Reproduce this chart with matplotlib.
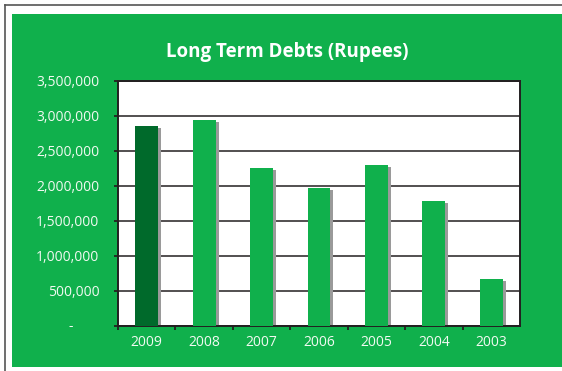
import matplotlib.pyplot as plt
from matplotlib.patches import Rectangle
from matplotlib.lines import Line2D
from matplotlib.transforms import ScaledTranslation
from matplotlib.ticker import FixedLocator, FuncFormatter

# yearly long term debt figures
years = ['2009', '2008', '2007', '2006', '2005', '2004', '2003']
debts = [2854000, 2939000, 2254000, 1969000, 2297000, 1784000, 671000]
y_ticks = [0, 500000, 1000000, 1500000, 2000000, 2500000, 3000000, 3500000]

W, H = 562, 371
GREEN = '#10b04c'
DARK_GREEN = '#006a2b'
INK = '#231f20'
TXT = '#f2faf2'

plt.rcParams['font.family'] = ['Open Sans', 'DejaVu Sans']

fig = plt.figure(figsize=(W / 100, H / 100), dpi=100)
fig.patch.set_facecolor('white')

def px(x, y):
    # pixel position (from top-left) -> figure fraction
    return x / W, 1 - y / H

# outer frame and green panel, kept under the axes
fig.add_artist(Line2D([4.5 / W, 4.5 / W], [0, 1 - 4.5 / H], color='#555555', lw=1.2, zorder=-2))
fig.add_artist(Line2D([4.5 / W, 1], [1 - 4.5 / H, 1 - 4.5 / H], color='#555555', lw=1.2, zorder=-2))
fig.add_artist(Rectangle(px(12, 366.5), (W - 12) / W, (366.5 - 14) / H,
                         transform=fig.transFigure, facecolor=GREEN, edgecolor='none',
                         zorder=-1))

x0, x1, y0, y1 = 118, 520, 80.7, 325.5
ax = fig.add_axes([x0 / W, 1 - y1 / H, (x1 - x0) / W, (y1 - y0) / H])
ax.set_facecolor('white')

pos = list(range(len(years)))
colors = [DARK_GREEN] + [GREEN] * (len(years) - 1)

# drop shadow: same bars shifted 3px right, 2px down
off = ScaledTranslation(3 / 100, -2 / 100, fig.dpi_scale_trans)
ax.bar(pos, debts, width=0.4, color='#9a9a9a', zorder=2, transform=ax.transData + off)
ax.bar(pos, debts, width=0.4, color=colors, zorder=3)

ax.set_xlim(-0.5, len(years) - 0.5)
ax.set_ylim(0, 3500000)
ax.yaxis.set_major_locator(FixedLocator(y_ticks))
ax.yaxis.set_major_formatter(FuncFormatter(lambda v, _: '' if v == 0 else f'{int(v):,}'))
ax.grid(axis='y', color=INK, lw=1.1, zorder=0)
ax.set_axisbelow(True)

ax.set_xticks(pos)
ax.set_xticklabels(years)
ax.set_xticks([p + 0.5 for p in pos[:-1]] + [-0.5], minor=True)
ax.tick_params(axis='x', which='major', length=0, pad=6.5, labelsize=10, labelcolor=TXT)
ax.tick_params(axis='x', which='minor', length=3, width=1.3, color=INK, direction='out')
ax.tick_params(axis='y', length=3, width=1.3, color=INK, pad=10.5, labelsize=10, labelcolor=TXT)

for s in ax.spines.values():
    s.set_color(INK)
    s.set_linewidth(1.4)

ax.annotate('-', xy=(0, 0), xycoords=('axes fraction', 'data'), xytext=(-34, -1),
            textcoords='offset points', ha='center', va='center', color=TXT, fontsize=10,
            annotation_clip=False)

fig.text(287 / W, 1 - 57 / H, 'Long Term Debts (Rupees)', ha='center', va='baseline',
         color='white', fontsize=13.5, fontweight='bold')

fig.savefig('out.png', dpi=100, facecolor=fig.get_facecolor())
